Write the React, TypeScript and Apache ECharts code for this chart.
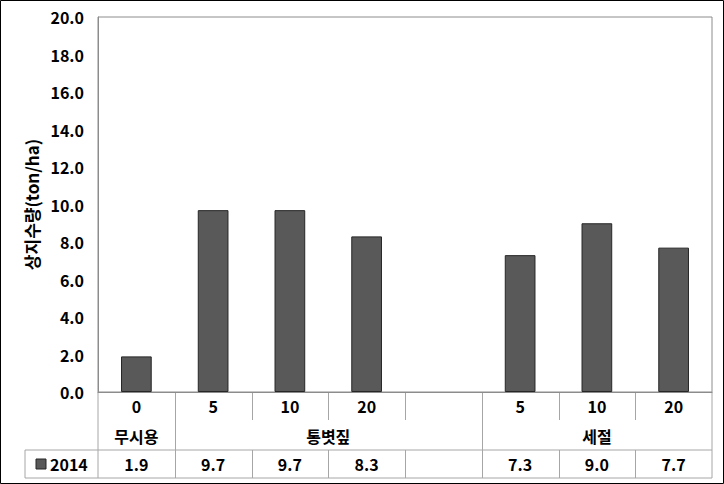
import React, { useEffect, useRef } from "react";
import * as echarts from "echarts";

const categories = ["0", "5", "10", "20", "", "5", "10", "20"];
const values: (number | null)[] = [1.9, 9.7, 9.7, 8.3, null, 7.3, 9.0, 7.7];
const groupLabels = ["무시용", "통볏짚", "세절"];
const groupStarts = [0, 1, 5];
const groupEnds = [0, 4, 7];
const seriesName = "2014";
const yTitle = "상지수량(ton/ha)";

const FONT = "'Noto Sans CJK KR', 'Noto Sans', sans-serif";
const BAR = "#595959";
const LINE = "#a6a6a6";
const FS = 16;

export default function App() {
  const ref = useRef<HTMLDivElement>(null);
  useEffect(() => {
    document.body.style.margin = "0";
    const chart = echarts.init(ref.current!, null, { renderer: "svg" });
    const gridLeft = 98, gridRight = 12, gridTop = 17, gridBottom = 92;
    chart.setOption({
      animation: false,
      grid: {
        left: gridLeft, right: gridRight, top: gridTop, bottom: gridBottom,
        show: true, borderColor: "#8c8c8c", borderWidth: 1,
      },
      xAxis: {
        type: "category",
        data: categories,
        axisLine: { show: true, lineStyle: { color: "#8c8c8c" } },
        axisTick: { show: false },
        axisLabel: {
          margin: 6, fontFamily: FONT, fontWeight: "bold", fontSize: FS,
          color: "#000", interval: 0,
        },
        splitLine: { show: false },
      },
      yAxis: {
        type: "value",
        min: 0, max: 20, interval: 2,
        name: yTitle,
        nameLocation: "middle",
        nameGap: 58,
        nameRotate: 90,
        nameTextStyle: { fontFamily: FONT, fontWeight: "bold", fontSize: 17, color: "#000" },
        axisLine: { show: true, lineStyle: { color: "#8c8c8c" } },
        axisTick: { show: false },
        splitLine: { show: false },
        axisLabel: {
          formatter: (v: number) => v.toFixed(1),
          fontFamily: FONT, fontWeight: "bold", fontSize: FS, color: "#000", margin: 14,
        },
      },
      series: [
        {
          type: "bar",
          name: seriesName,
          data: values,
          barWidth: "40%",
          itemStyle: { color: BAR, borderColor: "#262626", borderWidth: 1 },
        },
      ],
    });

    const c0 = chart.convertToPixel({ xAxisIndex: 0 }, 0) as number;
    const c1 = chart.convertToPixel({ xAxisIndex: 0 }, 1) as number;
    const bw = c1 - c0;
    const bound = (i: number) => c0 - bw / 2 + i * bw;
    const y0 = chart.convertToPixel({ yAxisIndex: 0 }, 0) as number;
    const r1 = y0 + 28, r2 = y0 + 58, r3 = y0 + 86;
    const left = bound(0), right = bound(categories.length);
    const legLeft = 25;
    const lines: any[] = [];
    const ln = (x1: number, y1: number, x2: number, y2: number) =>
      lines.push({ type: "line", shape: { x1, y1, x2, y2 }, style: { stroke: LINE, lineWidth: 1 }, silent: true });
    ln(legLeft, r2, right, r2);
    ln(legLeft, r3, right, r3);
    ln(legLeft, r2, legLeft, r3);
    ln(left, y0, left, r3);
    ln(right, y0, right, r3);
    for (let i = 1; i < categories.length; i++) {
      const x = Math.round(bound(i)) + 0.5;
      if (groupStarts.includes(i)) ln(x, y0, x, r3);
      else { ln(x, y0, x, r1); ln(x, r2, x, r3); }
    }
    const texts: any[] = [];
    const tx = (x: number, y: number, t: string) =>
      texts.push({
        type: "text", x, y, silent: true,
        style: { text: t, fontFamily: FONT, fontWeight: "bold", fontSize: FS, fill: "#000", align: "center", verticalAlign: "middle" },
      });
    groupLabels.forEach((g, k) => {
      const xs = bound(groupStarts[k]);
      const xe = bound(groupEnds[k] + 1);
      tx((xs + xe) / 2, (r1 + r2) / 2 + 1, g);
    });
    values.forEach((v, i) => {
      if (v != null) tx(c0 + i * bw, (r2 + r3) / 2, v.toFixed(1));
    });
    texts.push({
      type: "rect", shape: { x: 36, y: (r2 + r3) / 2 - 5, width: 10, height: 10 },
      style: { fill: BAR, stroke: "#262626", lineWidth: 1 }, silent: true,
    });
    texts.push({
      type: "text", x: 50, y: (r2 + r3) / 2, silent: true,
      style: { text: seriesName, fontFamily: FONT, fontWeight: "bold", fontSize: FS, fill: "#000", align: "left", verticalAlign: "middle" },
    });
    const border = {
      type: "rect", shape: { x: 0.5, y: 0.5, width: 723, height: 483 },
      style: { fill: "none", stroke: "#000", lineWidth: 1 }, silent: true,
    };
    chart.setOption({ graphic: [...lines, ...texts, border] });
    return () => chart.dispose();
  }, []);
  return <div ref={ref} style={{ width: 724, height: 484 }} />;
}
